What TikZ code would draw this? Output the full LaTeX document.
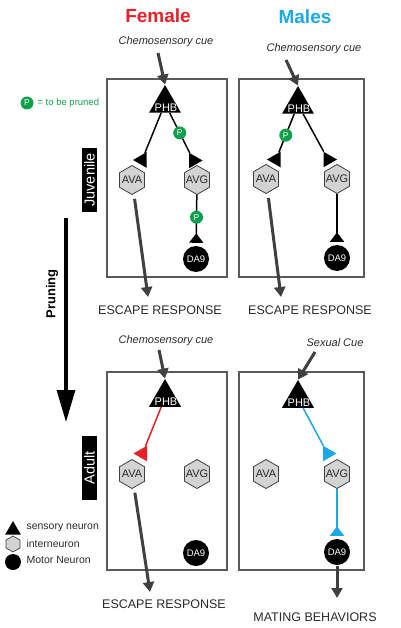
\documentclass[tikz,border=0pt]{standalone}
\usepackage{fontspec}
\setmainfont{Liberation Sans}
\usetikzlibrary{shapes.geometric,arrows.meta}
\definecolor{fred}{HTML}{E8202A}
\definecolor{mblue}{HTML}{1BA8E8}
\definecolor{pgreen}{HTML}{10A04C}
\definecolor{agrey}{HTML}{404040}
\definecolor{hexfill}{HTML}{D3D3D3}
\definecolor{boxgrey}{HTML}{5A5A5A}
\definecolor{txtgrey}{HTML}{2A2A2A}
\begin{document}
\begin{tikzpicture}[x=1pt,y=-1pt,
  fs/.style={font=\fontsize{#1}{#1}\selectfont},
  box/.style={draw=boxgrey,line width=1.2pt},
  sens/.style={regular polygon,regular polygon sides=3,fill=black,minimum size=37pt,inner sep=0pt},
  inter/.style={regular polygon,regular polygon sides=6,shape border rotate=30,fill=hexfill,draw=agrey,line width=0.8pt,minimum size=29pt,inner sep=0pt},
  motor/.style={circle,fill=black,minimum size=26pt,inner sep=0pt},
  phblbl/.style={fs=11,text=white},
  hexlbl/.style={fs=11,text=txtgrey},
  dalbl/.style={fs=9.5,text=white},
  pcirc/.style={circle,fill=pgreen,minimum size=13pt,inner sep=0pt,text=white,font=\fontsize{8.5}{8.5}\selectfont},
  conn/.style={line width=1.5pt},
  syn/.style={line width=1.5pt,-{Triangle[reversed,length=9.5pt,width=14pt]},shorten >=3pt},
  synL/.style={regular polygon,regular polygon sides=3,shape border rotate=90,fill=black,minimum size=18pt,inner sep=0pt},
  synR/.style={regular polygon,regular polygon sides=3,shape border rotate=-90,fill=black,minimum size=18pt,inner sep=0pt},
  bigarr/.style={draw=agrey,line width=3pt,-{Triangle[length=10pt,width=11pt]}},
  cue/.style={font=\fontsize{11}{11}\selectfont\itshape,text=txtgrey},
  resp/.style={font=\fontsize{12.5}{12.5}\selectfont,text=txtgrey},
  stagelbl/.style={fill=black,text=white,rotate=90,minimum width=64pt,minimum height=15pt,inner sep=0pt,font=\fontsize{14.5}{14.5}\selectfont},
  legtxt/.style={anchor=west,font=\fontsize{10.5}{10.5}\selectfont,text=txtgrey}
]
\useasboundingbox (0,0) rectangle (400,628);

% titles
\node[font=\fontsize{19}{19}\selectfont\bfseries,text=fred] (tfem) at (158,16) {Female};
\node[font=\fontsize{19}{19}\selectfont\bfseries,text=mblue] (tmal) at (305,17) {Males};

% boxes
\draw[box] (107,79) rectangle (227,277);
\draw[box] (239,79) rectangle (364,277);
\draw[box] (107,372) rectangle (227,570);
\draw[box] (239,372) rectangle (364,570);

% stage labels
\node[stagelbl] (juv) at (89.5,180) {Juvenile};
\node[stagelbl] (adu) at (89.5,468) {Adult};

% pruning arrow
\coordinate (prA) at (66,218);
\coordinate (prB) at (66,422);
\draw[line width=3.2pt,-{Triangle[length=32pt,width=18pt]}] (prA) -- (prB);
\node[rotate=90,font=\fontsize{13}{13}\selectfont\bfseries] (prtxt) at (52,294) {Pruning};

% P legend
\node[pcirc] (legP) at (27,103) {P};
\node[anchor=west,font=\fontsize{9.5}{9.5}\selectfont,text=pgreen] (legPt) at (34,103) {= to be pruned};

% ---------- female juvenile ----------
\node[cue] (fjcue) at (166,42) {Chemosensory cue};
\node[sens] (fjPHB) at (165,103.5) {};
\node[phblbl] (fjPHBt) at (166,108) {PHB};
\node[inter,label={[hexlbl]center:AVA}] (fjAVA) at (132,180) {};
\node[inter,label={[hexlbl]center:AVG}] (fjAVG) at (197,180) {};
\node[motor] (fjDA9) at (196,259) {};
\node[dalbl] (fjDA9t) at (196,259) {DA9};
\node[synL] (fjsA) at (142,160) {};
\node[synR] (fjsG) at (193.5,160.5) {};
\coordinate (fjin) at (158,53);
\draw[bigarr] (fjin) -- (fjPHB.north);
\draw[conn] (fjPHB) -- (fjsA);
\draw[conn] (fjPHB) -- node[pcirc,pos=0.5] (fjP1) {P} (fjsG);
\draw[syn] (fjAVG) -- node[pcirc,pos=0.44] (fjP2) {P} (fjDA9);
\coordinate (fjout) at (148,297);
\draw[bigarr,shorten <=5pt] (fjAVA) -- (fjout);
\node[resp] (fjesc) at (160,310) {ESCAPE RESPONSE};

% ---------- male juvenile ----------
\node[cue] (mjcue) at (314,49) {Chemosensory cue};
\node[sens] (mjPHB) at (298,104.5) {};
\node[phblbl] (mjPHBt) at (299,109) {PHB};
\node[inter,label={[hexlbl]center:AVA}] (mjAVA) at (266,179) {};
\node[inter,label={[hexlbl]center:AVG}] (mjAVG) at (337,179) {};
\node[motor] (mjDA9) at (337,258) {};
\node[dalbl] (mjDA9t) at (337,258) {DA9};
\node[synL] (mjsA) at (276,159.5) {};
\node[synR] (mjsG) at (328,159.5) {};
\coordinate (mjin) at (286,60);
\draw[bigarr] (mjin) -- (mjPHB.north);
\draw[conn] (mjPHB) -- node[pcirc,pos=0.55] (mjP1) {P} (mjsA);
\draw[conn] (mjPHB) -- (mjsG);
\draw[syn] (mjAVG) -- (mjDA9);
\coordinate (mjout) at (281,297);
\draw[bigarr,shorten <=5pt] (mjAVA) -- (mjout);
\node[resp] (mjesc) at (310,310) {ESCAPE RESPONSE};

% ---------- female adult ----------
\node[cue] (facue) at (166,341) {Chemosensory cue};
\node[sens] (faPHB) at (165,397.5) {};
\node[phblbl] (faPHBt) at (166,402) {PHB};
\node[inter,label={[hexlbl]center:AVA}] (faAVA) at (132,474) {};
\node[inter,label={[hexlbl]center:AVG}] (faAVG) at (197,474) {};
\node[motor] (faDA9) at (196,553) {};
\node[dalbl] (faDA9t) at (196,553) {DA9};
\node[synL,fill=fred] (fasA) at (142.5,453.5) {};
\coordinate (fain) at (159,350);
\draw[bigarr] (fain) -- (faPHB.north);
\draw[conn,draw=fred] (faPHB) -- (fasA);
\coordinate (faout) at (150,592);
\draw[bigarr,shorten <=5pt] (faAVA) -- (faout);
\node[resp] (faesc) at (164,604) {ESCAPE RESPONSE};

% ---------- male adult ----------
\node[cue] (macue) at (335,343) {Sexual Cue};
\node[sens] (maPHB) at (298,398.5) {};
\node[phblbl] (maPHBt) at (299,403) {PHB};
\node[inter,label={[hexlbl]center:AVA}] (maAVA) at (266,474) {};
\node[inter,label={[hexlbl]center:AVG}] (maAVG) at (337,474) {};
\node[motor] (maDA9) at (337,552) {};
\node[dalbl] (maDA9t) at (337,552) {DA9};
\node[synR,fill=mblue] (masG) at (327.5,453.5) {};
\coordinate (main) at (315,352);
\draw[bigarr] (main) -- (maPHB.north);
\draw[conn,draw=mblue] (maPHB) -- (masG);
\draw[syn,draw=mblue,fill=mblue] (maAVG) -- (maDA9);
\coordinate (maout) at (337,598);
\draw[bigarr,shorten <=1pt] (maDA9.south) -- (maout);
\node[resp] (mamat) at (315,617) {MATING BEHAVIORS};

% ---------- legend ----------
\node[regular polygon,regular polygon sides=3,fill=black,minimum size=18pt,inner sep=0pt] (legS) at (13,530) {};
\node[legtxt] (legSt) at (23,528) {sensory neuron};
\node[regular polygon,regular polygon sides=6,shape border rotate=30,fill=hexfill,draw=agrey,line width=0.7pt,minimum size=16pt,inner sep=0pt] (legI) at (13,544) {};
\node[legtxt] (legIt) at (23,544) {interneuron};
\node[circle,fill=black,minimum size=16pt,inner sep=0pt] (legM) at (13,562) {};
\node[legtxt] (legMt) at (23,560) {Motor Neuron};
\end{tikzpicture}
\end{document}
